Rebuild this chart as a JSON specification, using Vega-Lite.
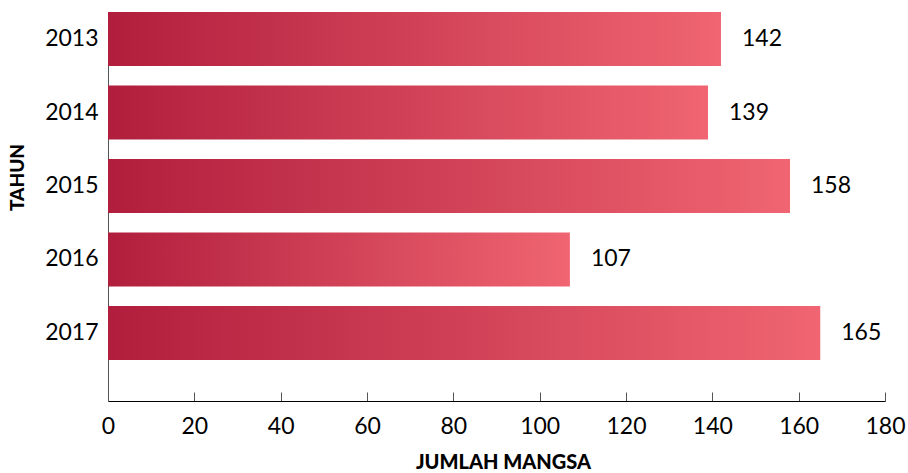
{
  "$schema": "https://vega.github.io/schema/vega-lite/v6.json",
  "width": 777,
  "height": 389,
  "autosize": {"type": "none"},
  "padding": {"left": 108, "top": 12, "right": 23, "bottom": 72},
  "background": "white",
  "data": {"values": [
    {"tahun": "2013", "jumlah": 142},
    {"tahun": "2014", "jumlah": 139},
    {"tahun": "2015", "jumlah": 158},
    {"tahun": "2016", "jumlah": 107},
    {"tahun": "2017", "jumlah": 165}
  ]},
  "config": {"view": {"stroke": null}, "font": "Lato"},
  "encoding": {
    "y": {"field": "tahun", "type": "nominal", "sort": null,
      "scale": {"paddingInner": 0.265, "paddingOuter": 0.279, "align": 0},
      "axis": {"title": "TAHUN", "titleFontWeight": 900, "titleFontSize": 19, "titleColor": "black",
        "titleX": -81, "titleY": 165, "titleAlign": "center", "titleBaseline": "bottom", "titleAngle": -90,
        "labelFontSize": 23, "labelColor": "black", "labelPadding": 10, "ticks": false, "domainColor": "#555", "domainWidth": 1}},
    "x": {"field": "jumlah", "type": "quantitative",
      "scale": {"domain": [0, 180], "nice": false},
      "axis": {"title": "JUMLAH MANGSA", "titleFontWeight": 900, "titleFontSize": 20, "titleColor": "black",
        "titleX": 395, "titleY": 51, "titleAlign": "center", "titleBaseline": "top",
        "values": [0, 20, 40, 60, 80, 100, 120, 140, 160, 180], "grid": false, "labelFlush": false,
        "labelFontSize": 23, "labelColor": "black", "labelPadding": 23, "tickSize": -9, "tickColor": "#555", "domainColor": "black", "domainWidth": 1.2}}
  },
  "layer": [
    {"mark": {"type": "bar", "color": {"gradient": "linear", "x1": 0, "x2": 1, "y1": 0, "y2": 0,
      "stops": [{"offset": 0, "color": "#b11e3d"}, {"offset": 1, "color": "#f06571"}]}}},
    {"mark": {"type": "text", "align": "left", "dx": 21, "fontSize": 23, "color": "black"},
     "encoding": {"text": {"field": "jumlah"}}}
  ]
}
